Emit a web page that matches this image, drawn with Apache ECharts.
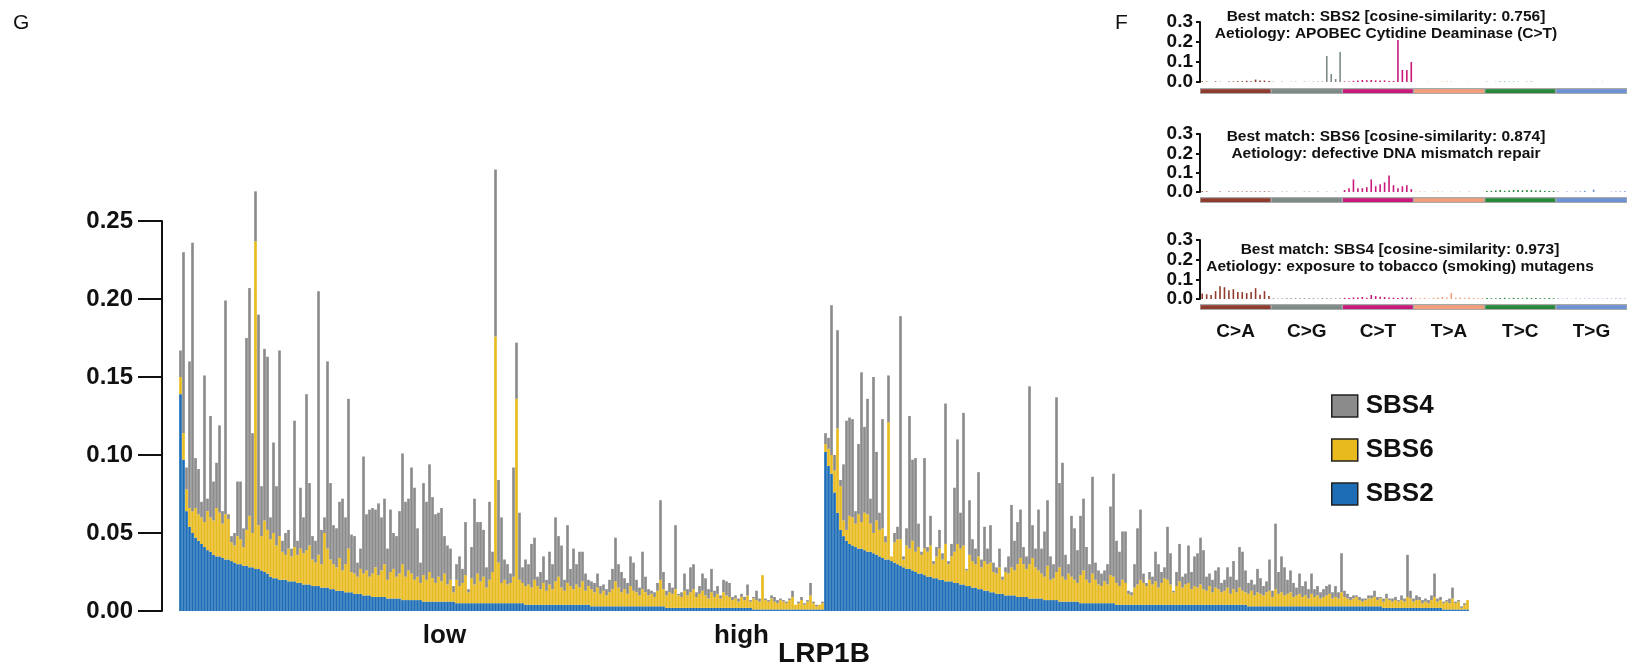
<!DOCTYPE html>
<html>
<head>
<meta charset="utf-8">
<title>LRP1B mutational signatures</title>
<script src="https://cdn.jsdelivr.net/npm/echarts@6/dist/echarts.min.js"></script>
<style>
  html, body { margin: 0; padding: 0; background: #fff; }
  #main { width: 1627px; height: 667px; }
</style>
</head>
<body>
<div id="main"></div>
<script>
// signature contribution per sample, units of 0.001, samples sorted by SBS2
const sbs2Low = [
  139,97,64,54,50,47,45,43,41,39, 38,36,35,35,34,33,33,32,31,30, 30,29,29,28,28,27,27,26,25,24,
  22,21,21,20,20,20,19,19,19,18, 18,17,17,17,16,16,16,15,15,15, 14,14,13,13,13,12,12,12,11,11,
  11,10,10,10,9,9,9,9,9,8, 8,8,8,8,7,7,7,7,7,7, 7,6,6,6,6,6,6,6,6,6, 6,6,5,5,5,5,5,5,5,5,
  5,5,5,5,5,5,5,5,5,5, 5,5,5,5,5,4,4,4,4,4, 4,4,4,4,4,4,4,4,4,4, 4,4,4,4,4,4,4,3,3,3,
  3,3,3,3,3,3,3,3,3,3, 3,3,3,3,3,3,3,3,3,3, 3,3,2,2,2,2,2,2,2,2, 2,2,2,2,2,2,2,2,2,2,
  2,2,2,2,2,2,2,2,2,2, 2,1,1,1,1,1,1,1,1,1, 1,1,1,1,1,1,1,1,1,1, 1,1,1,1,1
];
const sbs6Low = [
  11,17,14,12,14,19,17,17,16,25, 22,22,31,28,22,29,26,12,11,18, 16,12,23,33,22,210,28,22,33,28,
  24,29,21,28,18,16,21,16,22,18, 22,20,22,25,17,15,20,15,35,25, 19,16,15,21,13,18,28,13,13,11,
  16,14,16,12,15,19,14,17,21,12, 17,19,14,16,23,15,19,17,13,15, 11,17,14,19,15,12,16,13,18,11,
  14,6,15,11,13,18,7,16,12,19, 14,17,10,15,20,171,26,13,15,12, 13,17,131,15,13,12,13,11,16,12,
  10,14,9,13,10,15,18,11,9,14, 12,10,13,11,15,9,12,11,9,12, 8,10,7,9,11,16,12,9,11,8,
  13,10,9,7,11,9,7,8,6,10, 17,11,8,10,9,12,8,7,11,8, 10,12,7,9,11,8,6,10,7,9,
  6,10,8,7,5,6,4,7,5,8, 4,7,6,5,22,6,5,7,5,4, 6,5,4,6,8,3,4,6,3,5, 9,4,2,3,4
];
const sbs4Low = [
  17,116,14,94,172,32,29,10,94,8, 65,25,29,56,8,137,3,4,8,35, 37,12,123,146,64,32,135,32,110,111,
  14,58,38,119,7,14,12,5,81,9, 39,23,100,40,15,14,169,22,10,120, 49,25,25,36,46,30,96,24,24,9,
  13,75,36,43,42,37,46,34,42,20, 40,23,26,40,71,48,46,68,59,31, 13,59,50,69,52,44,41,47,24,25,
  20,4,10,19,9,34,2,20,55,33, 38,30,13,50,13,107,53,42,13,13, 6,70,36,43,10,17,13,28,27,6,
  11,17,7,21,16,41,26,27,7,37, 11,26,13,23,19,11,4,5,6,9, 5,4,4,8,13,28,15,13,7,7,
  19,18,8,5,24,10,4,2,3,5, 51,11,3,6,4,41,1,3,11,4, 16,16,3,5,11,11,6,15,4,5,
  2,8,9,9,2,2,2,2,2,7, 1,1,6,2,0,1,1,2,3,2, 1,1,1,1,4,0,1,2,1,1, 8,1,1,0,1
];
const sbs2High = [
  102,93,88,76,63,52,48,45,43,42, 41,40,40,39,38,38,37,36,35,34, 33,33,32,31,30,29,28,27,27,26,
  25,24,24,23,22,22,21,21,20,20, 19,19,19,18,18,17,17,16,16,15, 15,14,14,13,13,12,12,11,11,11,
  10,10,10,10,9,9,9,9,8,8, 8,8,8,7,7,7,7,7,6,6, 6,6,6,6,6,5,5,5,5,5, 5,5,5,5,5,5,5,4,4,4,
  4,4,4,4,4,4,4,4,4,4, 4,4,4,4,4,4,4,4,4,4, 4,4,4,4,4,4,4,4,4,4, 4,4,4,4,4,4,4,4,4,4,
  4,3,3,3,3,3,3,3,3,3, 3,3,3,3,3,3,3,3,3,3, 3,3,3,3,3,3,3,3,3,3, 3,3,3,3,3,3,3,3,3,3,
  3,3,3,3,3,3,2,2,2,2, 2,2,2,2,2,2,2,2,2,2, 2,2,2,2,2,2,1,1,1,1, 1,1,1,1,1
];
const sbs6High = [
  5,11,12,14,54,28,10,7,18,18, 15,22,17,24,24,18,13,22,17,19, 11,88,3,13,16,17,5,15,13,19,
  13,17,12,17,16,20,9,14,20,13, 24,11,16,20,25,23,25,10,20,17, 15,21,14,19,17,19,13,13,17,9,
  15,14,18,16,21,25,21,18,22,26, 20,18,16,15,22,13,14,18,22,16, 14,18,16,14,12,18,21,15,13,19,
  15,12,11,14,12,18,17,14,12,16, 14,7,6,11,13,16,14,12,16,13, 15,11,14,17,16,13,8,12,15,11,
  13,14,10,12,11,13,10,9,12,8, 11,10,8,9,11,7,10,8,11,9, 8,8,10,7,9,8,7,9,10,6,
  11,8,9,7,8,9,6,7,8,6, 7,5,8,6,7,5,6,7,8,5, 6,5,9,6,5,4,5,6,4,3,
  4,5,5,6,4,5,4,6,5,4, 5,4,5,4,7,6,4,5,5,3, 4,3,5,7,4,5,4,5,4,7, 4,5,1,3,6
];
const sbs4High = [
  7,7,96,10,63,4,36,70,63,63, 8,45,96,55,74,16,100,44,11,70, 4,30,0,6,8,143,2,11,85,52,
  60,15,2,58,3,19,2,6,12,4, 90,2,8,41,67,23,85,1,35,14, 10,54,5,22,10,24,6,4,12,2,
  3,11,40,19,27,31,11,8,114,21, 12,39,16,29,42,15,9,112,54,73, 16,6,39,33,21,38,46,21,12,62,
  11,9,8,7,13,44,66,27,22,31, 33,2,2,15,36,45,6,2,5,5, 19,15,7,7,34,20,1,9,24,7,
  7,24,11,19,22,30,25,9,8,8, 11,14,6,7,13,11,18,8,26,25, 14,7,7,7,15,10,6,7,20,4,
  42,14,23,18,9,14,9,5,13,7, 9,6,13,5,6,4,5,6,6,4, 7,4,25,4,3,2,2,1,2,2,
  1,2,2,4,2,1,2,3,1,2, 2,1,3,2,27,5,2,3,2,2, 2,2,3,15,2,2,1,1,3,7, 1,1,1,1,0
];

const yTicks = ['0.00', '0.05', '0.10', '0.15', '0.20', '0.25'];
const groupNames = ['low', 'high'];

// 96-channel profiles of the extracted signatures (F)
const mutTypes = ['C>A', 'C>G', 'C>T', 'T>A', 'T>C', 'T>G'];
const mutColors = ['#8f3b2d', '#7d8b88', '#c9197a', '#f19f7b', '#278a3a', '#6c92d8'];
const profileA = [
  0.004,0.002,0,0.003,0.001,0,0.002,0.003,0.004,0.004,0.006,0.004,0.012,0.008,0.007,0.005,
  0.002,0,0.002,0,0.001,0.002,0,0.002,0.001,0.002,0.002,0.003,0.13,0.04,0.015,0.15,
  0.003,0.002,0.006,0.008,0.01,0.009,0.01,0.008,0.007,0.008,0.005,0.005,0.21,0.06,0.06,0.1,
  0.001,0,0,0.001,0,0,0.002,0.003,0.002,0,0,0,0.001,0,0,0,
  0.001,0,0.001,0.002,0.002,0.001,0.002,0.001,0,0.001,0.002,0,0,0,0,0,
  0,0,0,0,0,0,0,0,0.001,0,0.001,0,0,0,0,0
];
const profileB = [
  0.004,0.003,0,0,0.002,0,0.003,0.002,0.003,0.002,0.003,0.002,0.003,0.002,0.003,0.003,
  0.002,0,0.002,0.002,0,0.002,0,0.002,0.002,0,0.002,0,0.002,0,0.002,0,
  0.01,0.02,0.065,0.02,0.02,0.025,0.065,0.03,0.04,0.05,0.085,0.035,0.02,0.03,0.035,0.015,
  0.002,0.002,0.002,0,0.002,0.002,0.002,0,0.002,0,0.002,0,0.003,0,0,0,
  0.005,0.006,0.008,0.01,0.006,0.008,0.01,0.01,0.009,0.01,0.01,0.008,0.009,0.006,0.005,0.005,
  0.002,0,0.002,0,0.002,0.003,0.006,0,0.012,0,0,0,0.002,0.003,0.003,0.004
];
const profileC = [
  0.028,0.024,0.02,0.04,0.065,0.06,0.045,0.05,0.035,0.035,0.03,0.035,0.055,0.022,0.04,0.015,
  0.004,0.003,0.003,0.004,0.004,0.004,0.004,0.004,0.004,0.004,0.003,0.004,0.004,0.003,0.003,0.004,
  0.006,0.005,0.008,0.007,0.01,0.006,0.02,0.015,0.012,0.01,0.008,0.007,0.005,0.008,0.006,0.007,
  0.004,0.004,0.005,0.003,0.006,0.008,0.01,0.008,0.03,0.006,0.007,0.006,0.008,0.005,0.004,0.005,
  0.005,0.004,0.004,0.005,0.006,0.004,0.006,0.005,0.004,0.006,0.005,0.005,0.004,0.004,0.005,0.004,
  0.002,0.002,0.002,0.001,0.002,0.002,0.002,0.002,0.002,0.002,0.002,0.002,0.002,0.002,0.003,0.002
];
const panelTitles = [
  'Best match: SBS2 [cosine-similarity: 0.756]\nAetiology: APOBEC Cytidine Deaminase (C>T)',
  'Best match: SBS6 [cosine-similarity: 0.874]\nAetiology: defective DNA mismatch repair',
  'Best match: SBS4 [cosine-similarity: 0.973]\nAetiology: exposure to tobacco (smoking) mutagens'
];
const stripFill = [1, 1, 1, 1, 1, 1];

const FONT = '"Liberation Sans", Arial, Helvetica, sans-serif';

// category lists
const samples = [];
sbs2Low.forEach((v, i) => samples.push('low_' + (i + 1)));
sbs2High.forEach((v, i) => samples.push('high_' + (i + 1)));
const bases = ['A', 'C', 'G', 'T'];
const contexts = [];
mutTypes.forEach(t => bases.forEach(a => bases.forEach(b => contexts.push(a + '[' + t + ']' + b))));

const frac = arr => arr.map(v => v / 1000);
const groupLabelIdx = {88: groupNames[0], 187: groupNames[1]};

const mChart = echarts.init(document.getElementById('main'));

// panel layout
const panelTop = [22, 134, 240];
const panelH = [60, 58, 59];
const stripTop = [88, 197, 304];
const profiles = [profileA, profileB, profileC];

const grids = [{left: 179, right: 158, top: 221, bottom: 56, outerBoundsMode: 'none'}];
const xAxes = [{
  type: 'category', gridIndex: 0, data: samples,
  axisLine: {show: false}, axisTick: {show: false},
  axisLabel: {
    interval: (idx) => groupLabelIdx[idx] !== undefined,
    formatter: (val, idx) => groupLabelIdx[idx] || '',
    fontSize: 26, fontWeight: 'bold', color: '#111', margin: 12
  },
  name: 'LRP1B', nameLocation: 'middle', nameGap: 29, nameMoveOverlap: false,
  nameTextStyle: {fontSize: 28, fontWeight: 'bold', color: '#111'}
}];
const yAxes = [{
  type: 'value', gridIndex: 0, min: 0, max: 0.25, interval: 0.05, offset: 17,
  axisLine: {show: true, lineStyle: {color: '#111', width: 2}},
  axisTick: {show: true, length: 24, lineStyle: {color: '#111', width: 2}},
  axisLabel: {formatter: (v) => yTicks[Math.round(v / 0.05)], fontSize: 24, fontWeight: 'bold', color: '#111', margin: 29},
  splitLine: {show: false}
}];
const series = [
  {name: 'SBS2', color: '#1c6db5'},
  {name: 'SBS6', color: '#e8ba1e'},
  {name: 'SBS4', color: '#8b8b8b'}
].map((s, k) => ({
  name: s.name, type: 'bar', stack: 'sig', xAxisIndex: 0, yAxisIndex: 0,
  data: frac([sbs2Low.concat(sbs2High), sbs6Low.concat(sbs6High), sbs4Low.concat(sbs4High)][k]),
  itemStyle: {color: s.color}, barCategoryGap: '12%', clip: false
}));

for (let p = 0; p < 3; p++) {
  grids.push({left: 1200, right: 0, top: panelTop[p], height: panelH[p], outerBoundsMode: 'none'});
  xAxes.push({type: 'category', gridIndex: 1 + p, data: contexts, axisLine: {show: false}, axisTick: {show: false}, axisLabel: {show: false}});
  yAxes.push({
    type: 'value', gridIndex: 1 + p, min: 0, max: 0.3, interval: 0.1,
    axisLine: {show: true, lineStyle: {color: '#111', width: 2}},
    axisTick: {show: true, length: 4, lineStyle: {color: '#111', width: 2}},
    axisLabel: {
      formatter: (v) => v.toFixed(1), fontSize: 19, fontWeight: 'bold', color: '#111', margin: 7, lineHeight: 13,
      showMinLabel: true, showMaxLabel: true, hideOverlap: false
    },
    splitLine: {show: false}
  });
  series.push({
    name: 'profile' + p, type: 'bar', xAxisIndex: 1 + p, yAxisIndex: 1 + p,
    data: profiles[p], barWidth: 1.6,
    itemStyle: {color: (prm) => mutColors[Math.floor(prm.dataIndex / 16)]}
  });
}
// colour strips under each panel
for (let p = 0; p < 3; p++) {
  grids.push({left: 1200, right: 0, top: stripTop[p], height: 6, show: true, backgroundColor: '#a9a9a9', borderWidth: 0, outerBoundsMode: 'none'});
  xAxes.push({
    type: 'category', gridIndex: 4 + p, data: mutTypes, axisLine: {show: false}, axisTick: {show: false},
    axisLabel: {show: p === 2, fontSize: 19, fontWeight: 'bold', color: '#111', margin: 12}
  });
  yAxes.push({type: 'value', gridIndex: 4 + p, min: -0.3, max: 1.3, show: false});
  series.push({
    name: 'strip' + p, type: 'bar', xAxisIndex: 4 + p, yAxisIndex: 4 + p,
    data: stripFill, barCategoryGap: '2%',
    itemStyle: {color: (prm) => mutColors[prm.dataIndex]}
  });
}

const titles = [
  {text: 'G', left: 8, top: 8, textStyle: {fontSize: 21, fontWeight: 'normal', color: '#111'}},
  {text: 'F', left: 1110, top: 8, textStyle: {fontSize: 21, fontWeight: 'normal', color: '#111'}}
];
const titleX = [1386, 1386, 1400];
const titleY = [8, 128, 241];
panelTitles.forEach((t, p) => titles.push({
  text: t, left: titleX[p], top: titleY[p], textAlign: 'center', padding: 0,
  textStyle: {fontSize: 15.5, fontWeight: 'bold', color: '#111', lineHeight: 17}
}));

mChart.setOption({
  animation: false,
  textStyle: {fontFamily: FONT},
  title: titles,
  legend: {
    data: ['SBS4', 'SBS6', 'SBS2'], orient: 'vertical', left: 1331, top: 393, padding: 0,
    itemWidth: 26, itemHeight: 22, itemGap: 18, icon: 'rect',
    itemStyle: {borderColor: '#222', borderWidth: 1.5},
    textStyle: {fontSize: 26, fontWeight: 'bold', color: '#111', padding: [0, 0, 0, 3]}
  },
  grid: grids,
  xAxis: xAxes,
  yAxis: yAxes,
  series: series
});
</script>
</body>
</html>
